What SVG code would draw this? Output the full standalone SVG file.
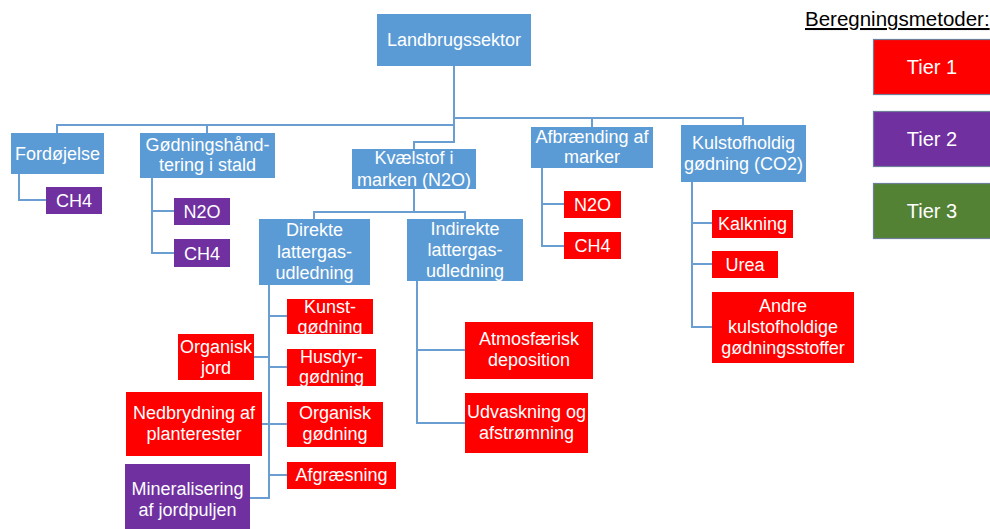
<svg xmlns="http://www.w3.org/2000/svg" width="990" height="529" viewBox="0 0 990 529">
<style>
text{font-family:"Liberation Sans",Arial,sans-serif;font-size:18px;fill:#fff;text-anchor:middle}
.b{fill:#5B9BD5}
.r{fill:#FF0000}
.p{fill:#7030A0}
.g{fill:#548235}
.t{stroke:#6F7E98;stroke-width:1.2}
.c{fill:none;stroke:#6A9ED3;stroke-width:2}
.leg{fill:#000;text-anchor:start;font-size:20.5px;text-decoration:underline}
.tl{font-size:20px}
</style>
<rect width="990" height="529" fill="#fff"/>
<g id="connectors" class="c">
<path d="M454 66V125H57V133M207 125V133M454 118H743V125M592 118V127M454 118V142H414V149"/>
<path d="M19 174V200H46"/>
<path d="M152 178V253H174M152 211H174"/>
<path d="M414 189V212M314 219V212H465V219"/>
<path d="M269 285V498H250M269 316H287M269 367H287M269 424H287M269 475H287M254 357H269M262 424H269"/>
<path d="M417 281V423H465M417 350H465"/>
<path d="M542 168V246H564M542 204H564"/>
<path d="M692 182V327H712M692 223H712M692 264H712"/>
</g>
<g id="landbrugssektor"><rect class="b" x="377" y="14" width="154" height="52"/><text x="454" y="46">Landbrugssektor</text></g>
<g id="fordojelse"><rect class="b" x="11" y="133" width="93" height="41"/><text x="57.5" y="160">Fordøjelse</text></g>
<g id="fordojelse-ch4"><rect class="p" x="46" y="187" width="56" height="27"/><text x="74" y="207">CH4</text></g>
<g id="godningshaandtering"><rect class="b" x="140" y="133" width="135" height="45"/><text x="207.5" y="151">Gødningshånd-</text><text x="207.5" y="171">tering i stald</text></g>
<g id="stald-n2o"><rect class="p" x="174" y="198" width="56" height="27"/><text x="202" y="218">N2O</text></g>
<g id="stald-ch4"><rect class="p" x="174" y="239" width="56" height="28"/><text x="202" y="259.5">CH4</text></g>
<g id="kvaelstof"><rect class="b" x="352" y="149" width="124" height="40"/><text x="414" y="164">Kvælstof i</text><text x="414" y="186">marken (N2O)</text></g>
<g id="direkte"><rect class="b" x="259" y="219" width="111" height="66"/><text x="314.5" y="236">Direkte</text><text x="314.5" y="258">lattergas-</text><text x="314.5" y="279">udledning</text></g>
<g id="indirekte"><rect class="b" x="407" y="219" width="116" height="62"/><text x="465" y="235">Indirekte</text><text x="465" y="256">lattergas-</text><text x="465" y="277">udledning</text></g>
<g id="afbraending"><rect class="b" x="531" y="127" width="122" height="41"/><text x="592" y="143">Afbrænding af</text><text x="592" y="163">marker</text></g>
<g id="afbraending-n2o"><rect class="r" x="564" y="191" width="57" height="27"/><text x="592.5" y="211">N2O</text></g>
<g id="afbraending-ch4"><rect class="r" x="564" y="232" width="57" height="27"/><text x="592.5" y="252">CH4</text></g>
<g id="kulstofholdig"><rect class="b" x="681" y="125" width="125" height="57"/><text x="743.5" y="149">Kulstofholdig</text><text x="743.5" y="170">gødning (CO2)</text></g>
<g id="kalkning"><rect class="r" x="712" y="210" width="81" height="28"/><text x="752.5" y="230">Kalkning</text></g>
<g id="urea"><rect class="r" x="712" y="251" width="66" height="27"/><text x="745" y="271">Urea</text></g>
<g id="andre"><rect class="r" x="712" y="292" width="142" height="71"/><text x="783" y="312">Andre</text><text x="783" y="333">kulstofholdige</text><text x="783" y="354">gødningsstoffer</text></g>
<g id="kunstgodning"><rect class="r" x="287" y="299" width="86" height="35"/><text x="330" y="313">Kunst-</text><text x="330" y="333">gødning</text></g>
<g id="husdyrgodning"><rect class="r" x="287" y="349" width="89" height="37"/><text x="331.5" y="363">Husdyr-</text><text x="331.5" y="383">gødning</text></g>
<g id="organisk-jord"><rect class="r" x="178" y="334" width="76" height="46"/><text x="216" y="353">Organisk</text><text x="216" y="374">jord</text></g>
<g id="nedbrydning"><rect class="r" x="126" y="392" width="136" height="64"/><text x="194" y="419">Nedbrydning af</text><text x="194" y="440">planterester</text></g>
<g id="organisk-godning"><rect class="r" x="287" y="402" width="96" height="45"/><text x="335" y="419">Organisk</text><text x="335" y="440">gødning</text></g>
<g id="afgraesning"><rect class="r" x="287" y="462" width="109" height="27"/><text x="341.5" y="481">Afgræsning</text></g>
<g id="mineralisering"><rect class="p" x="125" y="464" width="125" height="66"/><text x="187.5" y="495">Mineralisering</text><text x="187.5" y="516">af jordpuljen</text></g>
<g id="atmosfaerisk"><rect class="r" x="465" y="322" width="128" height="57"/><text x="529" y="345">Atmosfærisk</text><text x="529" y="366">deposition</text></g>
<g id="udvaskning"><rect class="r" x="465" y="393" width="123" height="60"/><text x="526.5" y="418">Udvaskning og</text><text x="526.5" y="439">afstrømning</text></g>
<g id="legend">
<text class="leg" x="805" y="26">Beregningsmetoder:</text>
<g id="tier1"><rect class="r t" x="873.5" y="39.5" width="130" height="55"/><text class="tl" x="932" y="74">Tier 1</text></g>
<g id="tier2"><rect class="p t" x="873.5" y="111.5" width="130" height="55"/><text class="tl" x="932" y="146">Tier 2</text></g>
<g id="tier3"><rect class="g t" x="873.5" y="183.5" width="130" height="55"/><text class="tl" x="932" y="218">Tier 3</text></g>
</g>
</svg>
